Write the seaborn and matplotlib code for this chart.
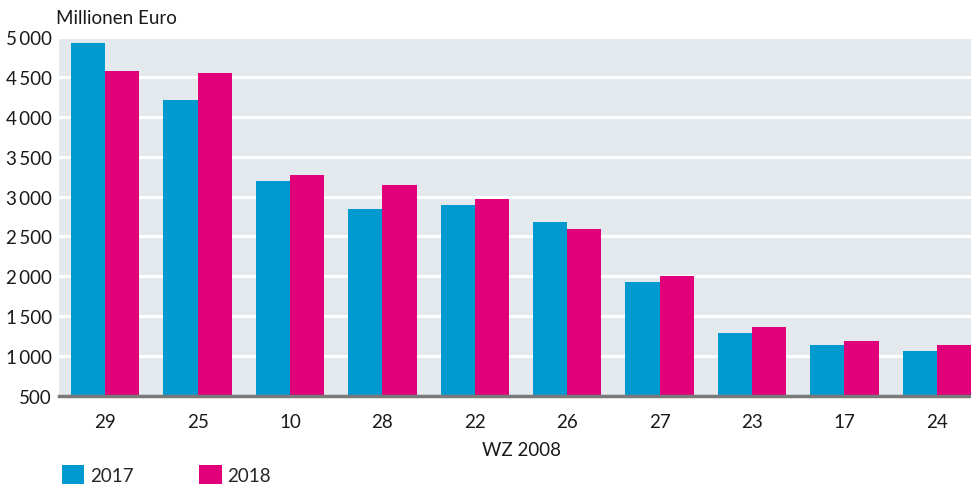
import numpy as np
import pandas as pd
import seaborn as sns
import matplotlib.pyplot as plt
from matplotlib.patches import Patch
from matplotlib.ticker import FuncFormatter

# WZ 2008 Abteilungen, Millionen Euro
categories = ["29", "25", "10", "28", "22", "26", "27", "23", "17", "24"]
values_2017 = [4920, 4205, 3190, 2850, 2900, 2675, 1935, 1285, 1135, 1060]
values_2018 = [4570, 4555, 3265, 3150, 2965, 2590, 2010, 1370, 1195, 1145]
years = ["2017", "2018"]

blue = "#0099d0"
magenta = "#e2007a"

df = pd.DataFrame({
    "WZ": categories * 2,
    "Jahr": [years[0]] * len(categories) + [years[1]] * len(categories),
    "Wert": values_2017 + values_2018,
})

sns.set_theme(style="white")
plt.rcParams["font.family"] = ["Lato", "DejaVu Sans"]

fig = plt.figure(figsize=(9.71, 4.85), dpi=100)
# plot area runs slightly past the right edge of the image
ax = fig.add_axes([59 / 971, 1 - 397 / 485, 924 / 971, (397 - 38) / 485])
ax.set_facecolor("#e4e9ed")

sns.barplot(data=df, x="WZ", y="Wert", hue="Jahr", order=categories,
            palette=[blue, magenta], width=0.74, saturation=1,
            linewidth=0, legend=False, ax=ax, zorder=3)

ax.set_ylim(500, 5000)
ax.set_xlim(-0.5, len(categories) - 0.5)
ax.set_yticks(np.arange(500, 5001, 500))
ax.yaxis.set_major_formatter(FuncFormatter(
    lambda v, p: f"{int(v):,}".replace(",", "\u2009")))
ax.grid(axis="y", color="white", linewidth=2.2, zorder=1)
ax.set_axisbelow(True)
for s in ["top", "right", "left"]:
    ax.spines[s].set_visible(False)
ax.spines["bottom"].set_color("#7a7a7a")
ax.spines["bottom"].set_linewidth(2.5)
ax.spines["bottom"].set_zorder(4)
ax.tick_params(axis="both", length=0, labelsize=13.5, colors="#1a1a1a")
ax.tick_params(axis="x", pad=12)
ax.tick_params(axis="y", pad=5)
ax.set_xlabel("WZ 2008", fontsize=13.5, color="#1a1a1a", labelpad=8)
ax.set_ylabel("")

fig.text(56 / 971, 1 - 18 / 485, "Millionen Euro", fontsize=13.5,
         color="#1a1a1a", ha="left", va="center")

handles = [Patch(facecolor=blue, edgecolor="none"),
           Patch(facecolor=magenta, edgecolor="none")]
fig.legend(handles, years, loc="lower left", bbox_to_anchor=(45 / 971, -0.035),
           ncol=2, frameon=False, fontsize=13.5, handlelength=1.2,
           handleheight=1.2, handletextpad=0.3, columnspacing=3.5)

fig.savefig("out.png", dpi=100)
